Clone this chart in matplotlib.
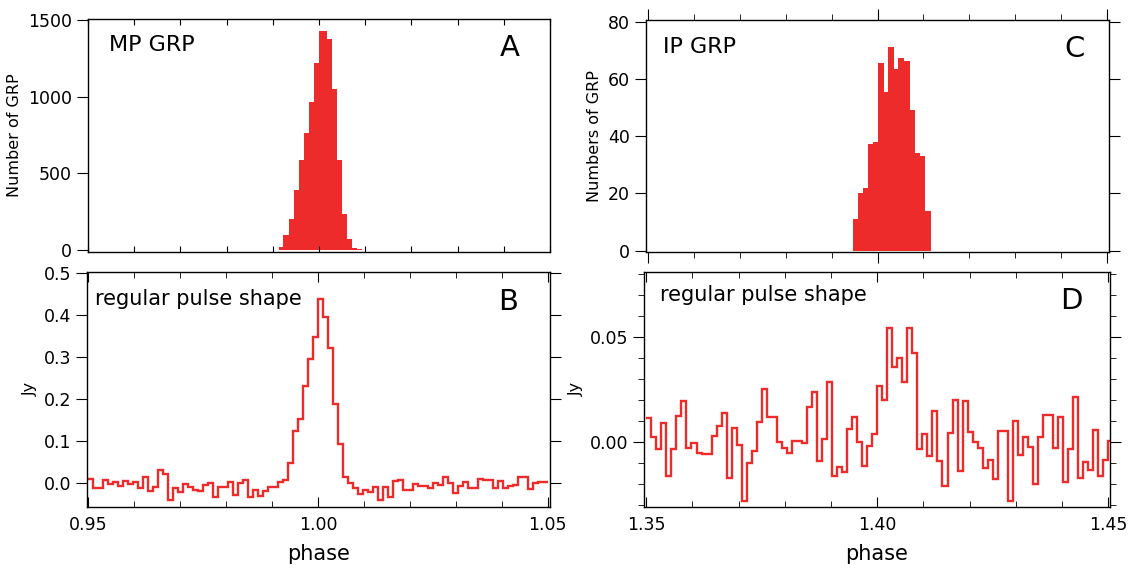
import numpy as np
import matplotlib.pyplot as plt
from matplotlib.ticker import MultipleLocator, FormatStrFormatter

# panel A: main pulse giant radio pulses, histogram over phase
mp_edges = [0.99135, 0.99228, 0.99351, 0.99459, 0.99567, 0.99675, 0.99784, 0.99892,
            1.00000, 1.00166, 1.00274, 1.00397, 1.00505, 1.00613, 1.00721, 1.00829, 1.00923]
mp_counts = [22, 97, 206, 392, 591, 764, 963, 1219, 1429, 1375, 1050, 587, 234, 71, 17, 11]

# panel C: interpulse giant radio pulses
ip_edges = [1.39458, 1.39566, 1.39675, 1.39783, 1.39892, 1.40000, 1.40145, 1.40239,
            1.40362, 1.40456, 1.40578, 1.40701, 1.40810, 1.40918, 1.41034, 1.41157]
ip_counts = [10.9, 20.0, 21.9, 37.1, 38.0, 65.4, 55.4, 71.3, 63.4, 67.2, 66.3, 49.1, 34.2, 33.0, 14.0]

# panel B: regular pulse shape around main pulse (Jy), 92 phase bins from 0.95
mp_start = 0.95
mp_flux = [0.008, -0.0135, -0.0135, 0.006, -0.003, 0.002, -0.008, 0.004, -0.003, 0.001,
           -0.0135, 0.013, -0.019, -0.0095, 0.030, 0.020, -0.040, -0.0135, -0.023, -0.003,
           -0.011, -0.016, -0.020, -0.0056, 0.0, -0.035, -0.0095, -0.0095, 0.0024, -0.029,
           0.0, 0.006, -0.035, -0.0175, -0.031, -0.019, -0.0095, -0.0095, 0.0008, 0.006,
           0.048, 0.123, 0.152, 0.231, 0.295, 0.349,
           0.440, 0.396, 0.322, 0.188, 0.0915, 0.0143, 0.0, -0.012, -0.027, -0.0175,
           -0.0215, -0.0095, -0.041, -0.0095, -0.033, 0.004, 0.006, -0.016, -0.016, -0.003,
           -0.008, -0.008, -0.0135, 0.0, -0.0056, 0.013, 0.0, -0.024, -0.007, 0.0024,
           -0.0135, -0.0135, 0.010, 0.006, 0.006, -0.0135, 0.005, -0.0135, -0.007, -0.0056,
           0.0143, 0.013, -0.015, 0.0, 0.0024, 0.0024]

# panel D: regular pulse shape around interpulse (Jy), bins from 1.35
ip_start = 1.35
ip_flux = [0.0111, 0.0024, -0.0035, 0.0087, -0.0163, -0.0035, 0.0122, 0.0195, -0.0029, -0.0008,
           -0.0056, -0.006, -0.006, 0.0029, 0.0075, 0.0135, -0.0175, 0.0067, -0.0016, -0.0283,
           -0.010, -0.0044, 0.0092, 0.0249, 0.0119, 0.0119, 0.0, -0.0029, -0.0052, 0.0003,
           0.0003, -0.0008, 0.0167, 0.0235, -0.0092, 0.0013, 0.0283, -0.0163, -0.0119, -0.0146,
           0.006, 0.0116, -0.0003, -0.0114, -0.0019, 0.0037,
           0.0265, 0.0198, 0.0544, 0.0354, 0.040, 0.0283, 0.0544, 0.0424, -0.0035, 0.0037,
           -0.0068, 0.0148, -0.009, -0.021, 0.0043, 0.0198, -0.014, 0.0194, 0.0044, -0.0003,
           -0.0032, -0.0124, -0.0087, -0.0179, 0.0052, 0.0051, -0.0281, 0.0098, -0.0063, 0.0021,
           -0.0027, -0.0203, 0.0024, 0.0127, 0.0127, -0.0029, 0.0119, -0.0194, -0.0037, 0.0211,
           -0.0171, -0.0095, -0.0135, 0.0056, -0.0163, -0.0087, 0.0003]

bin_w = 0.1 / 92
red = '#ee2b2b'

plt.rcParams['font.family'] = ['DejaVu Sans']
plt.rcParams['axes.linewidth'] = 1.0

fig = plt.figure(figsize=(11.3, 5.76), dpi=100)
W, H = 1130, 576


def box(l, t, r, b):
    return [l / W, 1 - b / H, (r - l) / W, (b - t) / H]


axA = fig.add_axes(box(88, 19, 550, 251.5))
axB = fig.add_axes(box(87, 271.7, 550, 506.7))
axC = fig.add_axes(box(646, 20, 1109, 252))
axD = fig.add_axes(box(644, 271.7, 1110, 506.7))

tick_fs = 12.5
ylab_fs = 11.5

# --- A ---
axA.stairs(mp_counts, mp_edges, fill=True, color=red, linewidth=0)
axA.set_xlim(0.95, 1.05)
axA.set_ylim(-8, 1506)
axA.xaxis.set_major_locator(MultipleLocator(0.01))
axA.yaxis.set_major_locator(MultipleLocator(500))
axA.tick_params(axis='x', direction='in', top=True, bottom=True, labelbottom=False, length=4)
axA.tick_params(axis='y', direction='out', left=True, right=False, length=8, labelsize=tick_fs)
axA.set_ylabel('Number of GRP', fontsize=ylab_fs)
axA.text(0.045, 0.93, 'MP GRP', transform=axA.transAxes, fontsize=16, va='top')
axA.text(0.935, 0.935, 'A', transform=axA.transAxes, fontsize=21, va='top', ha='right')

# --- C ---
axC.stairs(ip_counts, ip_edges, fill=True, color=red, linewidth=0)
axC.set_xlim(1.3496, 1.4504)
axC.set_ylim(-0.5, 80.6)
axC.xaxis.set_major_locator(MultipleLocator(0.05))
axC.xaxis.set_minor_locator(MultipleLocator(0.01))
axC.yaxis.set_major_locator(MultipleLocator(20))
axC.tick_params(axis='x', which='major', direction='out', top=True, bottom=True,
                labelbottom=False, length=8)
axC.tick_params(axis='x', which='minor', direction='out', top=True, bottom=True, length=4)
axC.tick_params(axis='y', direction='out', left=True, right=True, length=8, labelsize=tick_fs)
axC.set_ylabel('Numbers of GRP', fontsize=ylab_fs)
axC.text(0.037, 0.925, 'IP GRP', transform=axC.transAxes, fontsize=16, va='top')
axC.text(0.948, 0.935, 'C', transform=axC.transAxes, fontsize=21, va='top', ha='right')

# --- B ---
axB.stairs(mp_flux, mp_start + bin_w * np.arange(len(mp_flux) + 1),
           color=red, linewidth=1.7, baseline=None)
axB.set_xlim(0.9497, 1.0505)
axB.set_ylim(-0.057, 0.504)
axB.xaxis.set_major_locator(MultipleLocator(0.05))
axB.xaxis.set_minor_locator(MultipleLocator(0.01))
axB.xaxis.set_major_formatter(FormatStrFormatter('%.2f'))
axB.yaxis.set_major_locator(MultipleLocator(0.1))
axB.yaxis.set_major_formatter(FormatStrFormatter('%.1f'))
axB.tick_params(axis='x', which='major', direction='in', top=True, bottom=True,
                length=7, labelsize=tick_fs, pad=7)
axB.tick_params(axis='x', which='minor', direction='in', top=True, bottom=True, length=4)
axB.tick_params(axis='y', direction='out', left=True, right=True, length=8, labelsize=tick_fs)
axB.set_ylabel('Jy', fontsize=ylab_fs)
axB.set_xlabel('phase', fontsize=15, labelpad=7)
axB.text(0.017, 0.925, 'regular pulse shape', transform=axB.transAxes, fontsize=15, va='top')
axB.text(0.931, 0.93, 'B', transform=axB.transAxes, fontsize=21, va='top', ha='right')

# --- D ---
axD.stairs(ip_flux, ip_start + bin_w * np.arange(len(ip_flux) + 1),
           color=red, linewidth=1.7, baseline=None)
axD.set_xlim(1.3495, 1.4504)
axD.set_ylim(-0.031, 0.081)
axD.xaxis.set_major_locator(MultipleLocator(0.05))
axD.xaxis.set_minor_locator(MultipleLocator(0.01))
axD.xaxis.set_major_formatter(FormatStrFormatter('%.2f'))
axD.yaxis.set_major_locator(MultipleLocator(0.05))
axD.yaxis.set_minor_locator(MultipleLocator(0.01))
axD.yaxis.set_major_formatter(FormatStrFormatter('%.2f'))
axD.tick_params(axis='x', which='major', direction='in', top=True, bottom=True,
                length=7, labelsize=tick_fs, pad=7)
axD.tick_params(axis='x', which='minor', direction='in', top=True, bottom=True, length=4)
axD.tick_params(axis='y', which='major', direction='out', left=True, right=True,
                length=8, labelsize=tick_fs)
axD.tick_params(axis='y', which='minor', direction='out', left=True, right=True, length=4)
axD.set_ylabel('Jy', fontsize=ylab_fs)
axD.set_xlabel('phase', fontsize=15, labelpad=7)
axD.text(0.034, 0.945, 'regular pulse shape', transform=axD.transAxes, fontsize=15, va='top')
axD.text(0.942, 0.935, 'D', transform=axD.transAxes, fontsize=21, va='top', ha='right')

fig.savefig('out.png', dpi=100)
